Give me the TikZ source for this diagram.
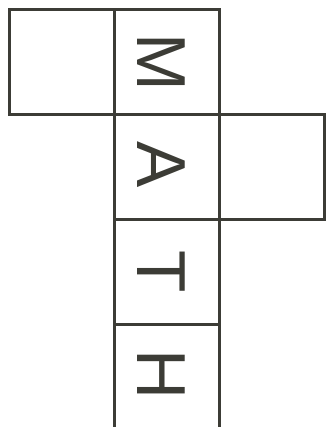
\documentclass[tikz,border=0pt]{standalone}
\usepackage{fontspec}
\setmainfont{Liberation Sans}
\usetikzlibrary{positioning}
\definecolor{inkgray}{RGB}{60,60,54}

\begin{document}
\begin{tikzpicture}[
    x=0.75pt, y=-0.75pt,
    cell/.style={draw=inkgray, line width=2pt, minimum size=78.75pt, inner sep=0pt, outer sep=0pt},
    letter/.style={text=inkgray, font=\fontsize{52}{52}\selectfont, inner sep=0pt, rotate=-90}
  ]
    \useasboundingbox (0,0) rectangle (325,427);
    % cross-shaped net of squares
    \node[cell] (blankl) at (62,62) {};
    \node[cell, right=0pt of blankl] (cm) {};
    \node[cell, below=0pt of cm] (ca) {};
    \node[cell, right=0pt of ca] (blankr) {};
    \node[cell, below=0pt of ca] (ct) {};
    \node[cell, below=0pt of ct] (ch) {};
    % letters, turned a quarter clockwise
    \node[letter] (lm) at ([xshift=-4pt]cm) {M};
    \node[letter] (la) at ([xshift=-4pt, yshift=1.5pt]ca) {A};
    \node[letter] (lt) at ([xshift=-4pt]ct) {T};
    \node[letter] (lh) at ([xshift=-4pt, yshift=1.5pt]ch) {H};
\end{tikzpicture}
\end{document}
